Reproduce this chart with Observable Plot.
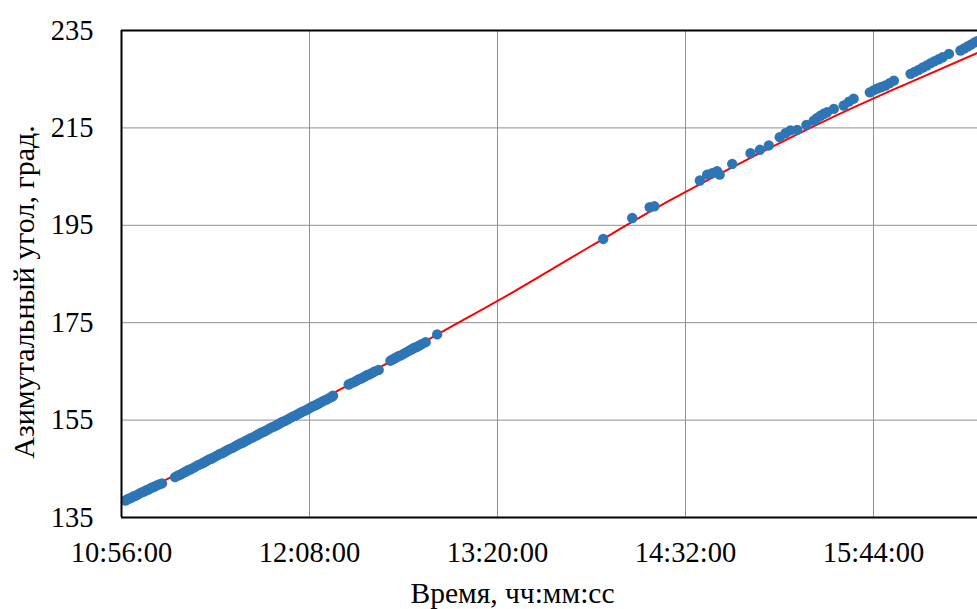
<!DOCTYPE html>
<html><head><meta charset="utf-8">
<script src="https://cdn.jsdelivr.net/npm/d3@7"></script>
<script src="https://cdn.jsdelivr.net/npm/@observablehq/plot@0.6"></script>
<style>html,body{margin:0;padding:0;background:#fff} svg{display:block} svg text{font-family:'Liberation Serif','Times New Roman',serif !important}</style>
</head><body><div id="chart"></div>
<script>
// Measured points: time (чч:мм:сс) and azimuth angle (град.)
const pointTimes = [
"10:57:30","10:58:30","10:59:30","11:00:30","11:01:30","11:02:30","11:03:30","11:04:30","11:05:30","11:06:30","11:07:30","11:08:30","11:09:30","11:10:30","11:11:30",
"11:16:30","11:17:30","11:18:30","11:19:30","11:20:30","11:21:30","11:22:30","11:23:30","11:24:30","11:25:30","11:26:30","11:27:30","11:28:30","11:29:30","11:30:30","11:31:30","11:32:30","11:33:30","11:34:30","11:35:30","11:36:30","11:37:30","11:38:30","11:39:30","11:40:30","11:41:30","11:42:30","11:43:30","11:44:30","11:45:30","11:46:30","11:47:30","11:48:30","11:49:30","11:50:30","11:51:30","11:52:30","11:53:30","11:54:30","11:55:30","11:56:30","11:57:30","11:58:30","11:59:30","12:00:30","12:01:30","12:02:30","12:03:30","12:04:30","12:05:30","12:06:30","12:07:30","12:08:30","12:09:30","12:10:30","12:11:30","12:12:30","12:13:30","12:14:30","12:15:30","12:16:30","12:17:00",
"12:23:00","12:24:00","12:25:00","12:26:00","12:27:00","12:28:00","12:29:00","12:30:00","12:31:00","12:32:00","12:33:00","12:34:30",
"12:39:00","12:40:00","12:41:00","12:42:00","12:43:00","12:44:00","12:45:00","12:46:00","12:47:00","12:48:00","12:49:00","12:50:00","12:51:00","12:52:30",
"12:56:54",
"14:00:30","14:11:36","14:18:18","14:20:06",
"14:37:30","14:40:18","14:42:12","14:44:06","14:45:06","14:49:54","14:56:54","15:00:30","15:03:54",
"15:08:06","15:10:18","15:12:12","15:14:48","15:18:18","15:21:06","15:22:18","15:23:42","15:25:00","15:26:12","15:28:48",
"15:32:36","15:34:36","15:36:24",
"15:42:36","15:44:00","15:45:30","15:47:00","15:48:36","15:50:12","15:51:48",
"15:58:12","15:59:42","16:01:18","16:02:54","16:04:24","16:05:54","16:07:24","16:09:00","16:10:30","16:12:54",
"16:17:18","16:18:42","16:20:00","16:21:18","16:22:36","16:23:42"
];
const pointAngles = [
138.5,138.8,139.0,139.3,139.5,139.8,140.1,140.3,140.6,140.8,141.1,141.3,141.6,141.8,142.0,
143.3,143.6,143.8,144.1,144.4,144.7,144.9,145.2,145.5,145.8,146.0,146.3,146.6,146.9,147.1,147.4,147.7,148.0,148.2,148.5,148.8,149.1,149.3,149.6,149.9,150.2,150.4,150.7,151.0,151.3,151.5,151.8,152.1,152.4,152.6,152.9,153.2,153.5,153.7,154.0,154.3,154.6,154.8,155.1,155.4,155.7,155.9,156.2,156.5,156.8,157.0,157.3,157.6,157.9,158.1,158.4,158.7,159.0,159.2,159.5,159.8,160.0,
162.3,162.6,162.8,163.1,163.4,163.6,163.9,164.2,164.4,164.7,165.0,165.3,
167.2,167.5,167.8,168.1,168.3,168.6,168.9,169.2,169.5,169.8,170.0,170.3,170.6,171.0,
172.6,
192.2,196.5,198.7,198.9,
204.2,205.4,205.7,206.1,205.4,207.6,209.8,210.5,211.4,
213.1,213.9,214.5,214.6,215.6,216.5,217.0,217.5,217.9,218.2,218.9,
219.6,220.4,221.0,
222.3,222.7,223.1,223.4,223.7,224.2,224.7,
226.1,226.5,226.9,227.4,227.8,228.3,228.7,229.1,229.5,230.2,
230.9,231.3,231.7,232.1,232.5,232.8
];
// Trend line (red)
const trendTimes = ["10:56:00","11:26:00","11:56:00","12:26:00","12:56:00","13:26:00","13:56:00","14:26:00","14:56:00","15:26:00","15:56:00","16:23:50"];
const trendAngles = [138.1,146.3,154.6,163.1,172.3,181.3,190.8,200.1,208.6,216.6,223.9,230.4];
// Axes
const xTickLabels = ["10:56:00","12:08:00","13:20:00","14:32:00","15:44:00"];
const xDomain = ["10:56:00","16:23:50"];
const yTicks = [135,155,175,195,215,235];
const yDomain = [135,235];
const xTitle = "Время, чч:мм:сс";
const yTitle = "Азимутальный угол, град.";

const parse = s => { const [h,m,sec] = s.split(":").map(Number); return new Date(Date.UTC(2000,0,1,h,m,sec||0)); };
const fmt = d3.utcFormat("%H:%M:%S");
const points = pointTimes.map((t,i) => ({t: parse(t), a: pointAngles[i]}));
const trend = trendTimes.map((t,i) => ({t: parse(t), a: trendAngles[i]}));
const xt = xTickLabels.map(parse);
const FS = 28.5;
const FF = "'Liberation Serif','Times New Roman',serif";

const chart = Plot.plot({
  width: 977, height: 609,
  marginLeft: 121, marginRight: 0, marginTop: 30, marginBottom: 92,
  style: {fontFamily: FF, fontSize: FS + "px", color: "#000", background: "#fff", overflow: "visible"},
  x: {type: "utc", domain: xDomain.map(parse)},
  y: {domain: yDomain},
  marks: [
    Plot.gridX(xt, {stroke: "#8f8f8f", strokeOpacity: 1, strokeWidth: 1}),
    Plot.gridY(yTicks, {stroke: "#8f8f8f", strokeOpacity: 1, strokeWidth: 1}),
    Plot.axisX(xt, {tickSize: 0, tickPadding: 24, tickFormat: fmt, fontSize: FS, fontFamily: FF, fontVariant: "normal", label: null}),
    Plot.axisY(yTicks, {tickSize: 0, tickPadding: 28, fontSize: FS, fontFamily: FF, fontVariant: "normal", label: null}),
    Plot.line(trend, {x: "t", y: "a", stroke: "#ff0000", strokeWidth: 2, curve: "monotone-x"}),
    Plot.dot(points, {x: "t", y: "a", r: 5.2, fill: "#2e75b6", stroke: "none", clip: true}),
    Plot.ruleX([parse(xDomain[0])], {stroke: "#000", strokeWidth: 2}),
    Plot.ruleY(yDomain, {stroke: "#000", strokeWidth: 2}),
    Plot.text([xTitle], {frameAnchor: "bottom", textAnchor: "middle", lineAnchor: "middle", dx: -37, dy: 76, fontSize: 29.5, fontFamily: FF, fill: "#000"}),
    Plot.text([yTitle], {frameAnchor: "left", textAnchor: "middle", lineAnchor: "middle", rotate: -90, dx: -97, dy: 18, fontSize: 30, fontFamily: FF, fill: "#000"})
  ]
});
document.getElementById("chart").appendChild(chart);
</script>
</body></html>
